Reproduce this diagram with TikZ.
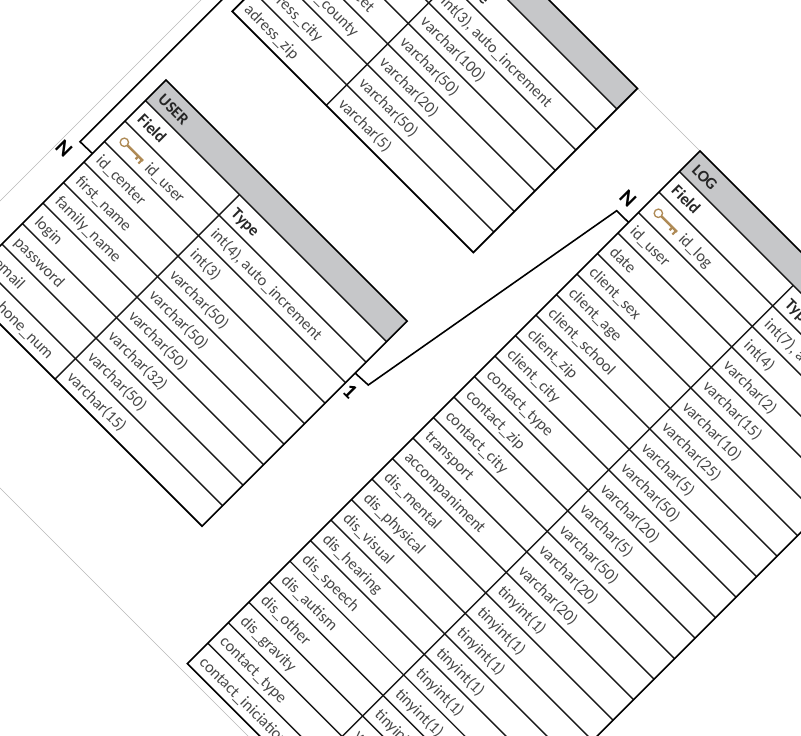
\documentclass[tikz,border=0pt]{standalone}
\usepackage{fontspec}
\setmainfont{Carlito}
\definecolor{hdrgrey}{HTML}{C6C7C9}
\definecolor{txtgrey}{HTML}{484848}
\definecolor{keygold}{HTML}{AE8A55}
\definecolor{pageline}{HTML}{B8B8B8}
\newcommand{\keyicon}[1]{%
  \begin{scope}[shift={(0,#1)}]
    \draw[keygold,line width=1pt] (14.6,0) circle (4.2);
    \draw[keygold,line width=1.9pt] (18.8,0) -- (41,0);
    \draw[keygold,line width=1.7pt] (34.5,0) -- (34.5,4);
    \draw[keygold,line width=1.7pt] (39.5,0) -- (39.5,5);
  \end{scope}}
\tikzset{
  tablescope/.style={shift={#1},rotate=-45},
  outline/.style={draw=black,line width=1.25pt,line join=miter},
  rowline/.style={draw=black!90,line width=1.05pt},
  celltxt/.style={anchor=mid west,inner sep=0pt,rotate=-45,text=txtgrey,font=\fontsize{12.25}{14}\selectfont},
  headtxt/.style={anchor=mid west,inner sep=0pt,rotate=-45,text=black!85,font=\fontsize{12.25}{14}\selectfont\bfseries},
  cardtxt/.style={inner sep=0pt,rotate=-45,text=black,font=\fontsize{16}{17}\selectfont\bfseries},
  relline/.style={draw=black,line width=1.2pt,line join=miter}
}
\begin{document}
\begin{tikzpicture}[x=0.75pt,y=-0.75pt]
\useasboundingbox (0,0) rectangle (801,736);
\clip (0,0) rectangle (801,736);
% page edges seen behind the tables
\draw[pageline,line width=0.35pt] (1000,451) -- (375,-174) -- (-143.5,344.5) -- (400,888);

% ---- upper table
\begin{scope}[tablescope={(396.3,-152.7)}]
  \path[fill=hdrgrey] (0,0) rectangle (341,29);
  \foreach \i in {1,...,7} \draw[rowline] (0,{29*\i}) -- (341,{29*\i});
  \draw[rowline] (133,29) -- (133,232);
  \draw[outline] (0,0) rectangle (341,232);
  \node[headtxt] (adr-type) at (140.5,46.5) {Type};
  \foreach \fld/\typ [count=\i from 4] in {adress\_street/varchar(50),adress\_county/varchar(20),adress\_city/varchar(50),adress\_zip/varchar(5)}{
    \node[celltxt] (adr-f\i) at (7.5,{29*\i+17.5}) {\fld};
    \node[celltxt] (adr-t\i) at (140.5,{29*\i+17.5}) {\typ};
  }
  \node[celltxt] (adr-t2) at (140.5,75.5) {int(3), auto\_increment};
  \node[celltxt] (adr-t3) at (140.5,104.5) {varchar(100)};
\end{scope}

% ---- USER table
\begin{scope}[tablescope={(166,80)}]
  \path[fill=hdrgrey] (0,0) rectangle (341,29);
  \foreach \i in {1,...,9} \draw[rowline] (0,{29*\i}) -- (341,{29*\i});
  \draw[rowline] (133,29) -- (133,290);
  \draw[outline] (0,0) rectangle (341,290);
  \node[headtxt] (user-title) at (8,17.5) {USER};
  \node[headtxt] (user-field) at (8,46.5) {Field};
  \node[headtxt] (user-type) at (140.5,46.5) {Type};
  \keyicon{73.5}
  \node[celltxt] (user-pk) at (47,75.5) {id\_user};
  \node[celltxt] (user-pkt) at (140.5,75.5) {int(4), auto\_increment};
  \foreach \fld/\typ [count=\i from 3] in {id\_center/int(3),first\_name/varchar(50),family\_name/varchar(50),login/varchar(50),password/varchar(32),email/varchar(50),telephone\_num/varchar(15)}{
    \node[celltxt] (user-f\i) at (7.5,{29*\i+17.5}) {\fld};
    \node[celltxt] (user-t\i) at (140.5,{29*\i+17.5}) {\typ};
  }
  \coordinate (user-left) at (0,104);
  \coordinate (user-right) at (341,73.5);
\end{scope}

% ---- LOG table
\begin{scope}[tablescope={(700,151)}]
  \path[fill=hdrgrey] (0,0) rectangle (341,29);
  \foreach \i in {1,...,24} \draw[rowline] (0,{29*\i}) -- (341,{29*\i});
  \draw[rowline] (161,29) -- (161,725);
  \draw[outline] (0,0) rectangle (341,725);
  \node[headtxt] (log-title) at (8,17.5) {LOG};
  \node[headtxt] (log-field) at (8,46.5) {Field};
  \node[headtxt] (log-type) at (168.5,46.5) {Type};
  \keyicon{73.5}
  \node[celltxt] (log-pk) at (47,75.5) {id\_log};
  \node[celltxt] (log-pkt) at (168.5,75.5) {int(7), auto\_increment};
  \foreach \fld/\typ [count=\i from 3] in {id\_user/int(4),date/varchar(2),client\_sex/varchar(15),client\_age/varchar(10),client\_school/varchar(25),client\_zip/varchar(5),client\_city/varchar(50),contact\_type/varchar(20),contact\_zip/varchar(5),contact\_city/varchar(50),transport/varchar(20),accompaniment/varchar(20),dis\_mental/tinyint(1),dis\_physical/tinyint(1),dis\_visual/tinyint(1),dis\_hearing/tinyint(1),dis\_speech/tinyint(1),dis\_autism/tinyint(1),dis\_other/tinyint(1),dis\_gravity/varchar(5)}{
    \node[celltxt] (log-f\i) at (7.5,{29*\i+17.5}) {\fld};
    \node[celltxt] (log-t\i) at (168.5,{29*\i+17.5}) {\typ};
  }
  \node[celltxt] (log-f23) at (7.5,684.5) {contact\_type};
  \node[celltxt] (log-f24) at (7.5,713.5) {contact\_iniciation};
  \coordinate (log-left) at (0,101);
\end{scope}

% ---- connectors
\coordinate (bendA) at (80,141.7);
\coordinate (bendB) at (368.3,385);
\coordinate (bendC) at (616.7,210.7);
\coordinate (adr-end) at (270,-48.3);
\draw[relline] (adr-end) -- (bendA) -- (user-left);
\draw[relline] (user-right) -- (bendB) -- (bendC) -- (log-left);
\node[cardtxt] (cardA) at (64,149) {N};
\node[cardtxt] (cardB) at (350,391.7) {1};
\node[cardtxt] (cardC) at (628,199) {N};
\end{tikzpicture}
\end{document}
